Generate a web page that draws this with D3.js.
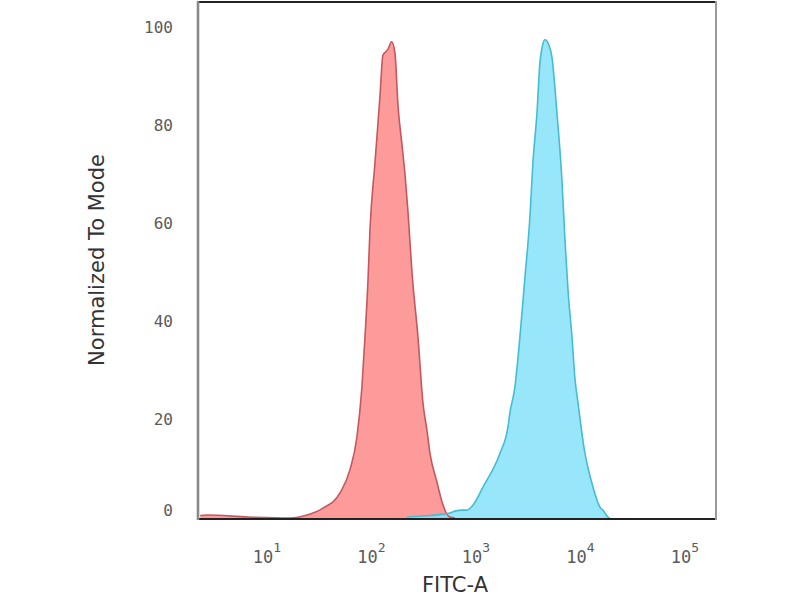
<!DOCTYPE html>
<html>
<head>
<meta charset="utf-8">
<script src="https://cdn.jsdelivr.net/npm/d3@7"></script>
<style>
  html, body { margin: 0; padding: 0; background: #fff; }
  svg { display: block; }
</style>
</head>
<body>
<svg id="chart" width="800" height="600"></svg>
<script>
// ---- data (FITC-A intensity, normalized count) ----
const redX = [2.3, 2.7, 6.6, 16.6, 24.2, 34.4, 50, 62.2, 72.6, 81.1, 86.7, 92.7, 96.8, 108, 120.5, 128.8, 137.7, 143.9, 156, 167.9, 179.5, 196, 209.4, 223.4, 244.3, 278.6, 311.2, 339.6, 363, 423.6, 473, 527, 563.6, 629.5];
const redY = [0.5, 0.6, 0.2, 0, 0.6, 2.0, 5.1, 9.8, 16.5, 26.7, 36.9, 48.5, 58.7, 72.3, 85.7, 94.3, 95.0, 95.5, 97.0, 94.7, 84.0, 76.0, 70.0, 62.5, 50.0, 36.9, 23.4, 17.9, 13.2, 7.3, 3.3, 0.8, 0.2, 0];

const blueX = [219, 363, 564, 630, 735, 820, 935, 1167, 1698, 2023, 2113, 2360, 2636, 2944, 3289, 3508, 3837, 4093, 4285, 4571, 5000, 5333, 5957, 6653, 7112, 7603, 8299, 8851, 9484, 11040, 11530, 13180, 15380, 16410, 18320, 19140];
const blueY = [0.2, 0.5, 1.0, 1.4, 1.6, 1.6, 2.6, 6.3, 13.2, 18.5, 21.4, 26.7, 36.9, 49.0, 61.5, 72.3, 82.5, 92.7, 95.7, 97.4, 96.3, 93.9, 82.5, 68.8, 56.6, 46.4, 36.9, 28.5, 23.4, 13.2, 11.2, 6.3, 2.2, 1.6, 0.2, 0];

const xTickExps = [1, 2, 3, 4, 5];
const yTicks = [0, 20, 40, 60, 80, 100];
const xTitle = "FITC-A";
const yTitle = "Normalized To Mode";

// ---- layout ----
const svg = d3.select("#chart");
const pL = 198, pR = 716, pT = 2, pB = 519;

const x = d3.scaleLog().domain([2.188, 198300]).range([pL, pR]);
const y = d3.scaleLinear().domain([0, 105.1]).range([518, pT]);

const red = redX.map((v, i) => [v, redY[i]]);
const blue = blueX.map((v, i) => [v, blueY[i]]);

const area = d3.area()
  .x(d => x(d[0])).y0(y(0)).y1(d => y(d[1]))
  .curve(d3.curveMonotoneX);
const line = d3.line()
  .x(d => x(d[0])).y(d => y(d[1]))
  .curve(d3.curveMonotoneX);

svg.append("clipPath").attr("id", "clip")
  .append("rect").attr("x", pL).attr("y", pT).attr("width", pR - pL).attr("height", pB - pT);

const g = svg.append("g").attr("clip-path", "url(#clip)");

g.append("path").datum(red).attr("d", area)
  .attr("fill", "#fd9696").attr("fill-opacity", 0.95);
g.append("path").datum(blue).attr("d", area)
  .attr("fill", "#86e2f8").attr("fill-opacity", 0.85);
g.append("path").datum(red).attr("d", line)
  .attr("fill", "none").attr("stroke", "#c4585e").attr("stroke-width", 1.6);
g.append("path").datum(blue).attr("d", line)
  .attr("fill", "none").attr("stroke", "#45bcd6").attr("stroke-width", 1.6);

// frame
svg.append("line").attr("x1", pL).attr("x2", pR).attr("y1", pT).attr("y2", pT)
  .attr("stroke", "#222").attr("stroke-width", 2);
svg.append("line").attr("x1", pL).attr("x2", pR).attr("y1", pB).attr("y2", pB)
  .attr("stroke", "#222").attr("stroke-width", 2);
svg.append("line").attr("x1", pL).attr("x2", pL).attr("y1", pT - 1).attr("y2", pB + 1)
  .attr("stroke", "#8a8a8a").attr("stroke-width", 2.6);
svg.append("line").attr("x1", pR).attr("x2", pR).attr("y1", pT - 1).attr("y2", pB + 1)
  .attr("stroke", "#9a9a9a").attr("stroke-width", 2);

// y tick labels
svg.append("g").selectAll("text").data(yTicks).join("text")
  .attr("x", 173)
  .attr("y", d => y(d) + (d === 0 ? -8 : 0))
  .attr("dy", "0.35em")
  .attr("text-anchor", "end")
  .attr("font-family", "DejaVu Sans Mono, monospace")
  .attr("font-size", 16)
  .attr("fill", "#5a5a5a")
  .text(d => d);

// x tick labels 10^k
const xl = svg.append("g").selectAll("text").data(xTickExps).join("text")
  .attr("x", d => x(Math.pow(10, d)))
  .attr("y", 563)
  .attr("text-anchor", "middle")
  .attr("font-family", "DejaVu Sans Mono, monospace")
  .attr("font-size", 17)
  .attr("fill", "#5a5a5a");
xl.append("tspan").text("10");
xl.append("tspan").attr("dy", -11).attr("font-size", 13).text(d => d);

// titles
svg.append("text")
  .attr("x", 455).attr("y", 592)
  .attr("text-anchor", "middle")
  .attr("font-family", "DejaVu Sans, sans-serif")
  .attr("font-size", 21)
  .attr("fill", "#333")
  .text(xTitle);

svg.append("text")
  .attr("transform", "translate(104,260) rotate(-90)")
  .attr("text-anchor", "middle")
  .attr("font-family", "DejaVu Sans, sans-serif")
  .attr("font-size", 21)
  .attr("fill", "#333")
  .text(yTitle);
</script>
</body>
</html>
